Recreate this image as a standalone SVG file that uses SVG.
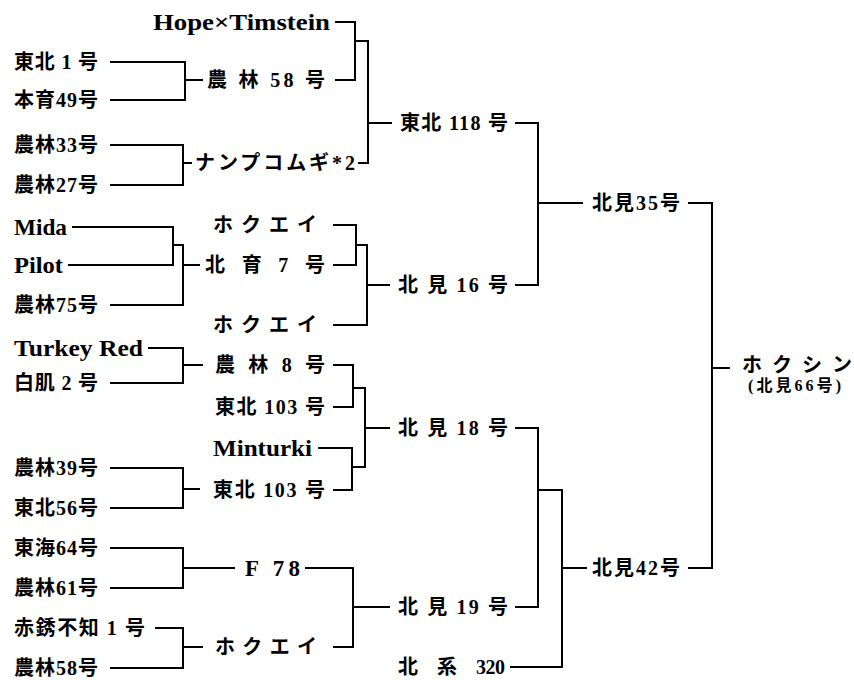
<svg xmlns="http://www.w3.org/2000/svg" width="854" height="680" viewBox="0 0 854 680">
<style>
  .ln { fill: none; stroke: #000; stroke-width: 2; stroke-linejoin: miter; }
  text { font-family: "Liberation Serif", "Noto Sans CJK JP", serif; font-weight: bold; font-size: 20px; fill: #000; }
  .lat { font-size: 23px; }
  .sm { font-size: 16px; }
</style>
<rect width="854" height="680" fill="#fff"/>
<g id="connectors">
  <path class="ln" d="M110,62 H185 V100 H110 M185,80 H203"/>
  <path class="ln" d="M335,22 H355 V80 H335 M355,41 H368 V163 H358 M368,123 H392"/>
  <path class="ln" d="M110,145 H183 V185 H110 M183,163 H192"/>
  <path class="ln" d="M515,123 H538 V285 H515 M538,203 H583"/>
  <path class="ln" d="M72,227 H173 V265 H68 M173,245 H183 V305 H110 M183,265 H200"/>
  <path class="ln" d="M333,225 H356 V265 H333 M356,245 H367 V325 H333 M367,285 H390"/>
  <path class="ln" d="M148,348 H183 V383 H110 M183,365 H203"/>
  <path class="ln" d="M333,365 H353 V407 H333 M353,388 H365 V467 H352"/>
  <path class="ln" d="M318,448 H352 V490 H333 M365,428 H390"/>
  <path class="ln" d="M110,468 H183 V508 H110 M183,489 H200"/>
  <path class="ln" d="M515,428 H538 V607 H515 M538,490 H562 V667 H510 M562,568 H587"/>
  <path class="ln" d="M110,548 H183 V588 H110 M183,568 H235"/>
  <path class="ln" d="M305,568 H353 V647 H333 M353,607 H390"/>
  <path class="ln" d="M155,628 H183 V668 H110 M183,647 H203"/>
  <path class="ln" d="M688,203 H712 V568 H688 M712,368 H730"/>
</g>
<g id="n-hope"><text class="lat" x="153" y="30" textLength="177" lengthAdjust="spacingAndGlyphs">Hope×Timstein</text></g>
<g id="n-tohoku1"><text x="14" y="69" textLength="84" lengthAdjust="spacing">東北 1 号</text></g>
<g id="n-honiku49"><text x="14" y="107" textLength="84" lengthAdjust="spacing">本育49号</text></g>
<g id="n-norin58a"><text x="207" y="87" textLength="118" lengthAdjust="spacing">農 林 58 号</text></g>
<g id="n-norin33"><text x="14" y="152" textLength="84" lengthAdjust="spacing">農林33号</text></g>
<g id="n-norin27"><text x="14" y="192" textLength="84" lengthAdjust="spacing">農林27号</text></g>
<g id="n-nanbu"><text x="195" y="170" textLength="160" lengthAdjust="spacing">ナンプコムギ*2</text></g>
<g id="n-mida"><text class="lat" x="14" y="235" textLength="53" lengthAdjust="spacingAndGlyphs">Mida</text></g>
<g id="n-pilot"><text class="lat" x="14" y="273" textLength="49" lengthAdjust="spacingAndGlyphs">Pilot</text></g>
<g id="n-norin75"><text x="14" y="312" textLength="84" lengthAdjust="spacing">農林75号</text></g>
<g id="n-hokuei1"><text x="213" y="232" textLength="104" lengthAdjust="spacing">ホ ク エ イ</text></g>
<g id="n-hokuiku7"><text x="205" y="272" textLength="120" lengthAdjust="spacing">北 育 7 号</text></g>
<g id="n-hokuei2"><text x="213" y="332" textLength="104" lengthAdjust="spacing">ホ ク エ イ</text></g>
<g id="n-turkey"><text class="lat" x="14" y="356" textLength="129" lengthAdjust="spacingAndGlyphs">Turkey Red</text></g>
<g id="n-shirohada2"><text x="14" y="390" textLength="84" lengthAdjust="spacing">白肌 2 号</text></g>
<g id="n-norin8"><text x="215" y="372" textLength="110" lengthAdjust="spacing">農 林 8 号</text></g>
<g id="n-tohoku103a"><text x="215" y="414" textLength="110" lengthAdjust="spacing">東北 103 号</text></g>
<g id="n-minturki"><text class="lat" x="213" y="456" textLength="99" lengthAdjust="spacingAndGlyphs">Minturki</text></g>
<g id="n-tohoku103b"><text x="213" y="497" textLength="112" lengthAdjust="spacing">東北 103 号</text></g>
<g id="n-norin39"><text x="14" y="475" textLength="84" lengthAdjust="spacing">農林39号</text></g>
<g id="n-tohoku56"><text x="14" y="515" textLength="84" lengthAdjust="spacing">東北56号</text></g>
<g id="n-tokai64"><text x="14" y="555" textLength="84" lengthAdjust="spacing">東海64号</text></g>
<g id="n-norin61"><text x="14" y="595" textLength="84" lengthAdjust="spacing">農林61号</text></g>
<g id="n-f78"><text class="lat" x="245" y="576" textLength="55" lengthAdjust="spacing">F 78</text></g>
<g id="n-akasabi"><text x="14" y="635" textLength="131" lengthAdjust="spacing">赤銹不知 1 号</text></g>
<g id="n-norin58b"><text x="14" y="675" textLength="84" lengthAdjust="spacing">農林58号</text></g>
<g id="n-hokuei3"><text x="215" y="654" textLength="102" lengthAdjust="spacing">ホ ク エ イ</text></g>
<g id="n-tohoku118"><text x="400" y="130" textLength="108" lengthAdjust="spacing">東北 118 号</text></g>
<g id="n-kitami16"><text x="398" y="292" textLength="110" lengthAdjust="spacing">北 見 16 号</text></g>
<g id="n-kitami18"><text x="398" y="435" textLength="110" lengthAdjust="spacing">北 見 18 号</text></g>
<g id="n-kitami19"><text x="398" y="614" textLength="110" lengthAdjust="spacing">北 見 19 号</text></g>
<g id="n-hokkei320"><text x="398" y="674" textLength="107" lengthAdjust="spacing">北　系　320</text></g>
<g id="n-kitami35"><text x="592" y="210" textLength="88" lengthAdjust="spacing">北見35号</text></g>
<g id="n-kitami42"><text x="592" y="575" textLength="88" lengthAdjust="spacing">北見42号</text></g>
<g id="n-hokushin">
  <text x="742" y="372" font-size="19" textLength="110" lengthAdjust="spacing">ホ ク シ ン</text>
  <text class="sm" x="748" y="391" textLength="93" lengthAdjust="spacing">(北見66号)</text>
</g>
</svg>
